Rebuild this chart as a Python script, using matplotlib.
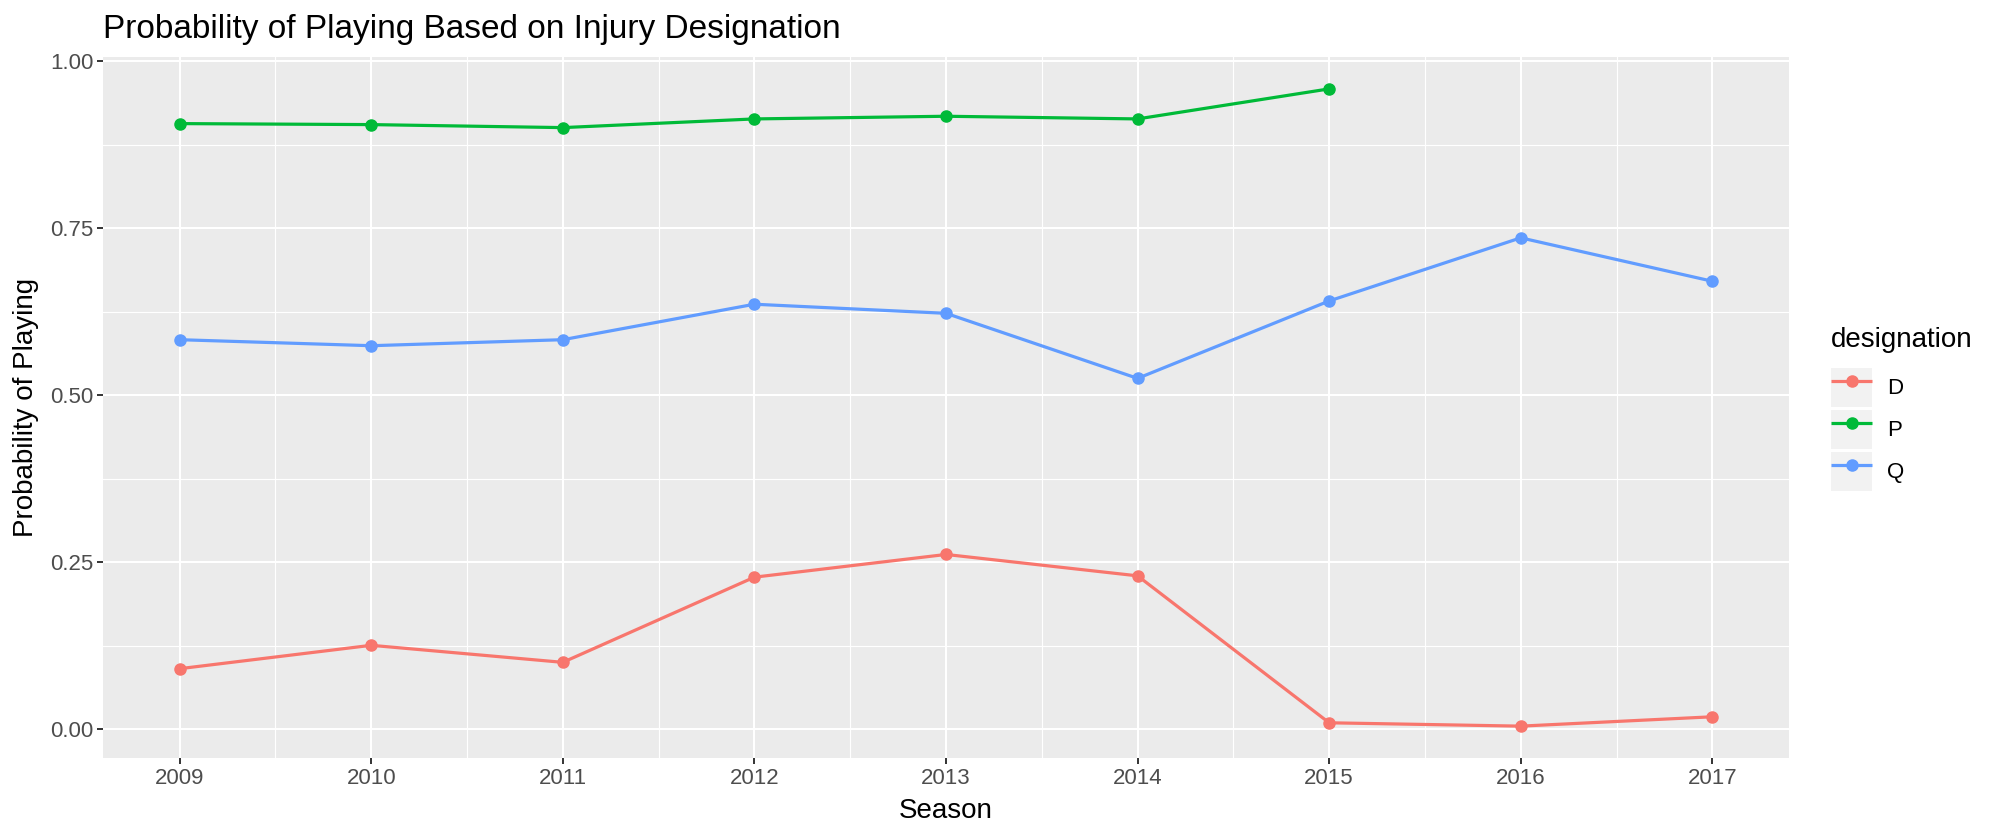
import matplotlib
matplotlib.use("Agg")
import matplotlib.pyplot as plt
from matplotlib.lines import Line2D
from matplotlib.patches import Rectangle
from matplotlib.legend_handler import HandlerLine2D
from matplotlib.ticker import FixedLocator

plt.rcParams['font.family'] = ['Liberation Sans', 'DejaVu Sans']

seasons = [2009, 2010, 2011, 2012, 2013, 2014, 2015, 2016, 2017]
seasons_p = [2009, 2010, 2011, 2012, 2013, 2014, 2015]
d_values = [0.091, 0.126, 0.1005, 0.228, 0.262, 0.230, 0.010, 0.005, 0.019]
p_values = [0.907, 0.9055, 0.901, 0.914, 0.918, 0.914, 0.959]
q_values = [0.5835, 0.5745, 0.5835, 0.6366, 0.623, 0.5256, 0.6415, 0.736, 0.671]
y_ticks = [0.00, 0.25, 0.50, 0.75, 1.00]
y_tick_labels = ["0.00", "0.25", "0.50", "0.75", "1.00"]

colors = {"D": "#F8766D", "P": "#00BA38", "Q": "#619CFF"}

W, H = 2000, 840
fig = plt.figure(figsize=(W / 100, H / 100), dpi=100)
ax = fig.add_axes([103 / W, 1 - 758 / H, (1789 - 103) / W, (758 - 57) / H])
ax.set_facecolor("#EBEBEB")
for s in ax.spines.values():
    s.set_visible(False)

series = [("D", seasons, d_values), ("P", seasons_p, p_values), ("Q", seasons, q_values)]
handles = []
for name, xs, ys in series:
    h, = ax.plot(xs, ys, color=colors[name], lw=2.3, marker="o", ms=8,
                 mec=colors[name], mfc=colors[name], label=name, zorder=3,
                 solid_capstyle="butt")
    handles.append(h)

ax.margins(x=0.05, y=0.05)
ax.set_xticks(seasons)
ax.set_xticklabels([str(s) for s in seasons])
ax.xaxis.set_minor_locator(FixedLocator([s + 0.5 for s in seasons[:-1]]))
ax.set_yticks(y_ticks)
ax.set_yticklabels(y_tick_labels)
ax.yaxis.set_minor_locator(FixedLocator([0.125, 0.375, 0.625, 0.875]))

ax.grid(which="major", color="white", lw=1.5, zorder=0)
ax.grid(which="minor", color="white", lw=0.8, zorder=0)
ax.set_axisbelow(True)
ax.tick_params(which="major", length=4, width=1.4, color="#333333",
               labelsize=16, labelcolor="#4D4D4D", pad=3)
ax.tick_params(which="minor", length=0)

ax.set_xlabel("Season", fontsize=20, labelpad=7)
ax.set_ylabel("Probability of Playing", fontsize=20, labelpad=8)
ax.set_title("Probability of Playing Based on Injury Designation",
             fontsize=24, loc="left", pad=14)


class KeyHandler(HandlerLine2D):
    def create_artists(self, legend, orig_handle, xdescent, ydescent,
                       width, height, fontsize, trans):
        arts = super().create_artists(legend, orig_handle, xdescent, ydescent,
                                      width, height, fontsize, trans)
        rect = Rectangle((-xdescent, -ydescent), width, height,
                         facecolor="#F2F2F2", edgecolor="none", transform=trans)
        return [rect] + list(arts)


leg = ax.legend(handles=handles, labels=["D", "P", "Q"],
                handler_map={Line2D: KeyHandler(numpoints=1)},
                loc="center left", bbox_to_anchor=(1831 / W, 1 - 409 / H),
                bbox_transform=fig.transFigure, frameon=False,
                fontsize=16, title="designation", title_fontsize=20,
                handlelength=1.85, handleheight=2.35, labelspacing=0.12,
                handletextpad=0.68, borderpad=0, borderaxespad=0,
                alignment="left")
leg._legend_box.sep = 10.5

fig.savefig("out.png", dpi=100)
